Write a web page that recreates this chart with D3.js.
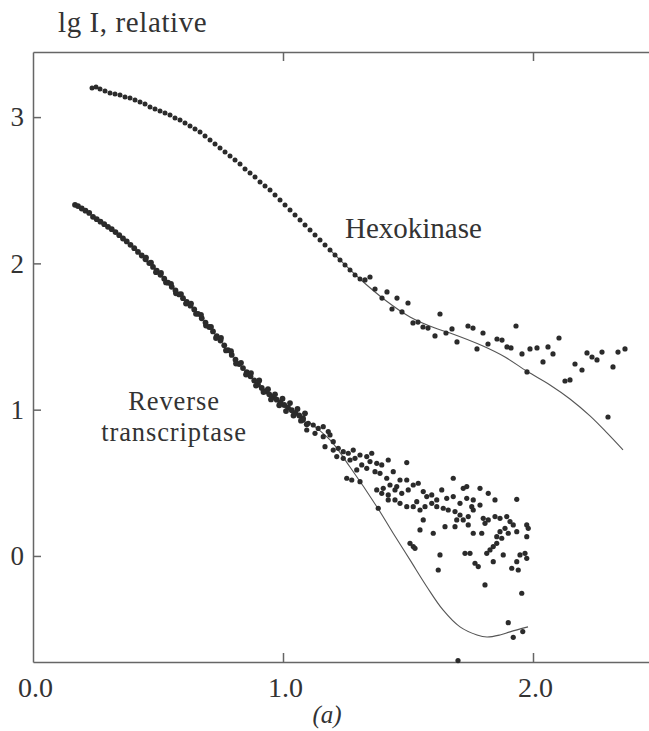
<!DOCTYPE html>
<html>
<head>
<meta charset="utf-8">
<script src="https://cdn.jsdelivr.net/npm/d3@7"></script>
<style>
  html, body { margin: 0; padding: 0; background: #fff; }
  svg { display: block; }
  .lbl { font-family: "Liberation Serif", "Times New Roman", serif; fill: #333; }
  .axis path, .axis line { stroke: #666; stroke-width: 1.5; }
  .axis text { font-family: "Liberation Serif", "Times New Roman", serif; fill: #333; }
</style>
</head>
<body>
<svg id="chart" width="649" height="731"></svg>
<script>
/* SAXS curves, lg I vs s: hexokinase and reverse transcriptase.
 * Points are [s, lgI]. */

// ---- data -------------------------------------------------------------
const xTickVals = [0, 1, 2];
const xTickLabels = ['0.0', '1.0', '2.0'];
const topTickVals = [1, 2];
const yTickVals = [0, 1, 2, 3];
const yTickLabels = ['0', '1', '2', '3'];

// hexokinase, low-angle part where the points sit on one line
const hexDense = [
  [0.236, 3.199], [0.252, 3.206], [0.268, 3.192], [0.288, 3.178], [0.308, 3.165],
  [0.328, 3.158], [0.348, 3.151], [0.368, 3.137], [0.388, 3.131], [0.408, 3.117],
  [0.428, 3.103], [0.448, 3.090], [0.468, 3.069], [0.488, 3.055], [0.508, 3.042],
  [0.528, 3.028], [0.548, 3.014], [0.568, 2.994], [0.588, 2.980], [0.608, 2.960],
  [0.628, 2.939], [0.648, 2.919], [0.668, 2.898], [0.688, 2.871], [0.708, 2.843],
  [0.728, 2.816], [0.748, 2.789], [0.768, 2.761], [0.788, 2.734], [0.808, 2.707],
  [0.828, 2.679], [0.848, 2.645], [0.868, 2.618], [0.888, 2.591], [0.908, 2.557],
  [0.928, 2.529], [0.948, 2.502], [0.968, 2.468], [0.988, 2.434], [1.008, 2.399],
  [1.028, 2.365], [1.048, 2.331], [1.068, 2.297], [1.088, 2.262], [1.108, 2.228],
  [1.128, 2.194], [1.148, 2.160], [1.168, 2.126], [1.188, 2.092], [1.208, 2.057],
  [1.228, 2.023], [1.248, 1.989], [1.268, 1.955], [1.288, 1.921], [1.308, 1.893]
];

// hexokinase, scattered tail
const hexScatter = [
  [1.328, 1.887], [1.348, 1.907], [1.368, 1.825], [1.396, 1.763], [1.416, 1.805],
  [1.436, 1.688], [1.456, 1.763], [1.476, 1.668], [1.500, 1.729], [1.520, 1.593],
  [1.540, 1.599], [1.560, 1.565], [1.580, 1.558], [1.608, 1.504], [1.628, 1.654],
  [1.652, 1.524], [1.676, 1.552], [1.696, 1.463], [1.740, 1.572], [1.760, 1.558],
  [1.776, 1.415], [1.800, 1.524], [1.820, 1.449], [1.856, 1.483], [1.876, 1.476],
  [1.896, 1.429], [1.912, 1.422], [1.932, 1.572], [1.956, 1.381], [1.976, 1.258],
  [1.988, 1.415], [2.016, 1.422], [2.040, 1.326], [2.060, 1.429], [2.080, 1.381],
  [2.104, 1.490], [2.128, 1.196], [2.148, 1.203], [2.168, 1.312], [2.196, 1.271],
  [2.216, 1.388], [2.236, 1.360], [2.256, 1.340], [2.276, 1.394], [2.300, 0.950],
  [2.320, 1.292], [2.340, 1.394], [2.368, 1.415]
];

// hexokinase model curve
const hexFit = [
  [1.188, 2.092], [1.308, 1.893], [1.408, 1.750], [1.508, 1.634], [1.608, 1.558],
  [1.668, 1.524], [1.800, 1.435], [1.888, 1.360], [1.976, 1.262], [2.068, 1.169],
  [2.148, 1.073], [2.228, 0.957], [2.296, 0.841], [2.360, 0.725]
];

// reverse transcriptase, dense band (two rows where it thickens)
const rtBand = [
  [0.168, 2.400], [0.180, 2.392], [0.195, 2.375], [0.210, 2.360], [0.225, 2.345],
  [0.240, 2.318], [0.255, 2.302], [0.270, 2.285], [0.285, 2.268], [0.300, 2.250],
  [0.315, 2.234], [0.330, 2.214], [0.345, 2.193], [0.360, 2.170], [0.375, 2.150],
  [0.390, 2.127], [0.405, 2.104], [0.420, 2.078], [0.435, 2.054], [0.450, 2.028],
  [0.465, 2.002], [0.480, 1.976], [0.495, 1.950], [0.510, 1.922], [0.525, 1.895],
  [0.540, 1.868], [0.555, 1.840], [0.570, 1.815], [0.585, 1.788], [0.600, 1.762],
  [0.615, 1.737], [0.630, 1.711], [0.645, 1.685], [0.660, 1.655], [0.675, 1.625],
  [0.690, 1.595], [0.705, 1.565], [0.720, 1.535], [0.735, 1.503], [0.750, 1.472],
  [0.765, 1.440], [0.780, 1.407], [0.795, 1.374], [0.810, 1.342], [0.825, 1.312],
  [0.840, 1.284], [0.855, 1.256], [0.870, 1.228], [0.885, 1.200], [0.900, 1.172],
  [0.915, 1.148], [0.930, 1.126], [0.945, 1.105], [0.960, 1.086], [0.975, 1.068],
  [0.990, 1.050], [1.005, 1.032], [1.020, 1.014], [1.035, 0.996], [1.050, 0.978],
  [1.065, 0.960], [1.080, 0.942]
];
const rtBand2 = [
  [0.452, 2.040], [0.472, 2.005], [0.492, 1.940], [0.512, 1.935], [0.532, 1.870],
  [0.552, 1.860], [0.572, 1.795], [0.592, 1.790], [0.612, 1.725], [0.632, 1.725],
  [0.652, 1.655], [0.672, 1.648], [0.692, 1.575], [0.712, 1.565], [0.732, 1.490],
  [0.752, 1.490], [0.772, 1.405], [0.792, 1.400], [0.812, 1.315], [0.832, 1.320],
  [0.852, 1.240], [0.872, 1.250], [0.892, 1.165], [0.905, 1.200], [0.922, 1.120],
  [0.940, 1.140], [0.952, 1.070], [0.968, 1.105], [0.985, 1.030], [0.998, 1.075],
  [1.012, 0.990], [1.028, 1.045], [1.042, 0.960], [1.058, 1.005], [1.072, 0.925],
  [1.088, 0.975], [1.095, 0.900]
];

// reverse transcriptase, scattered part
const rtScatter = [
  [1.081, 0.929], [1.101, 0.907], [1.121, 0.895], [1.141, 0.872], [1.161, 0.884],
  [1.181, 0.850], [1.095, 0.861], [1.128, 0.838], [1.161, 0.815], [1.188, 0.827],
  [1.201, 0.781], [1.168, 0.747], [1.201, 0.724], [1.221, 0.736], [1.241, 0.713],
  [1.261, 0.702], [1.281, 0.724], [1.215, 0.679], [1.241, 0.667], [1.268, 0.656],
  [1.288, 0.667], [1.308, 0.690], [1.335, 0.679], [1.355, 0.702], [1.348, 0.645],
  [1.375, 0.633], [1.395, 0.622], [1.421, 0.656], [1.315, 0.622], [1.335, 0.599],
  [1.295, 0.588], [1.368, 0.576], [1.388, 0.565], [1.495, 0.638], [1.255, 0.531],
  [1.275, 0.519], [1.308, 0.508], [1.415, 0.531], [1.441, 0.576], [1.468, 0.519],
  [1.495, 0.519], [1.521, 0.485], [1.541, 0.497], [1.428, 0.485], [1.455, 0.474],
  [1.401, 0.462], [1.375, 0.451], [1.395, 0.428], [1.421, 0.417], [1.448, 0.451],
  [1.475, 0.428], [1.501, 0.451], [1.381, 0.326], [1.681, 0.531], [1.721, 0.462],
  [1.735, 0.474], [1.788, 0.462], [1.821, 0.428], [1.848, 0.383], [1.935, 0.387],
  [1.561, 0.440], [1.575, 0.406], [1.595, 0.417], [1.615, 0.383], [1.635, 0.451],
  [1.655, 0.394], [1.681, 0.406], [1.708, 0.360], [1.735, 0.394], [1.761, 0.383],
  [1.788, 0.348], [1.755, 0.337], [1.595, 0.360], [1.568, 0.337], [1.535, 0.371],
  [1.521, 0.337], [1.495, 0.337], [1.468, 0.360], [1.448, 0.383], [1.421, 0.383],
  [1.548, 0.314], [1.615, 0.337], [1.641, 0.326], [1.661, 0.314], [1.688, 0.303],
  [1.708, 0.280], [1.695, 0.246], [1.721, 0.246], [1.741, 0.269], [1.761, 0.314],
  [1.801, 0.257], [1.821, 0.246], [1.848, 0.269], [1.868, 0.257], [1.895, 0.269],
  [1.908, 0.235], [1.921, 0.212], [1.888, 0.189], [1.868, 0.166], [1.855, 0.132],
  [1.875, 0.121], [1.901, 0.155], [1.935, 0.166], [1.975, 0.212], [1.981, 0.189],
  [1.975, 0.132], [1.561, 0.246], [1.548, 0.178], [1.601, 0.155], [1.648, 0.200],
  [1.688, 0.200], [1.741, 0.212], [1.761, 0.155], [1.795, 0.155], [1.808, 0.223],
  [1.508, 0.086], [1.521, 0.064], [1.528, 0.052], [1.628, 0.007], [1.621, -0.096],
  [1.728, 0.018], [1.748, 0.018], [1.768, -0.050], [1.781, -0.073], [1.808, -0.198],
  [1.828, 0.041], [1.841, 0.064], [1.855, 0.086], [1.815, 0.018], [1.841, -0.039],
  [1.881, 0.007], [1.915, -0.084], [1.941, -0.096], [1.948, 0.007], [1.968, 0.018],
  [1.975, -0.016], [1.935, -0.039], [1.955, -0.255], [1.901, -0.456], [1.921, -0.556],
  [1.959, -0.517], [1.700, -0.715]
];

// reverse transcriptase model curve
const rtFit = [
  [1.100, 0.920], [1.188, 0.793], [1.268, 0.608], [1.376, 0.335], [1.440, 0.157],
  [1.508, -0.027], [1.576, -0.212], [1.640, -0.369], [1.708, -0.485], [1.776, -0.540],
  [1.816, -0.554], [1.868, -0.540], [1.908, -0.519], [1.980, -0.485]
];

// ---- scales -----------------------------------------------------------
const svg = d3.select('#chart');
const x = d3.scaleLinear().domain([0, 2.464]).range([33, 649]);
const y = d3.scaleLinear().domain([-0.725, 3.445]).range([662, 52]);

// ---- axes (ticks point inward) ----------------------------------------
svg.append('g')
  .attr('class', 'axis')
  .attr('transform', `translate(0,${y(-0.725)})`)
  .call(d3.axisBottom(x).tickValues(xTickVals)
    .tickFormat((d, i) => xTickLabels[i])
    .tickSizeInner(-9).tickSizeOuter(0).tickPadding(15))
  .call(g => g.selectAll('text').attr('font-size', 28).attr('dx', 2))
  .call(g => g.selectAll('.tick').filter(d => d === 0).select('line').remove());

svg.append('g')
  .attr('class', 'axis')
  .attr('transform', `translate(0,${y(3.445)})`)
  .call(d3.axisTop(x).tickValues(topTickVals).tickFormat('')
    .tickSizeInner(-9).tickSizeOuter(0));

svg.append('g')
  .attr('class', 'axis')
  .attr('transform', `translate(${x(0)},0)`)
  .call(d3.axisLeft(y).tickValues(yTickVals)
    .tickFormat((d, i) => yTickLabels[i])
    .tickSizeInner(-8).tickSizeOuter(0).tickPadding(9))
  .call(g => g.selectAll('text').attr('font-size', 27));

// ---- model curves -----------------------------------------------------
const line = d3.line()
  .x(d => x(d[0]))
  .y(d => y(d[1]))
  .curve(d3.curveCatmullRom.alpha(0.5));

[hexFit, rtFit].forEach(pts => {
  svg.append('path')
    .datum(pts)
    .attr('d', line)
    .attr('fill', 'none')
    .attr('stroke', '#555')
    .attr('stroke-width', 1.1);
});

// ---- data points ------------------------------------------------------
function dots(pts, r) {
  svg.append('g').selectAll('circle')
    .data(pts)
    .join('circle')
    .attr('cx', d => x(d[0]))
    .attr('cy', d => y(d[1]))
    .attr('r', r)
    .attr('fill', '#2b2b2b');
}
dots(hexDense, 2.5);
dots(hexScatter, 2.6);
dots(rtBand, 2.9);
dots(rtBand2, 2.9);
dots(rtScatter, 2.6);

// ---- text -------------------------------------------------------------
svg.append('text').attr('class', 'lbl')
  .attr('x', 58).attr('y', 32)
  .attr('font-size', 29)
  .attr('letter-spacing', 0.6)
  .text('lg I, relative');

svg.append('text').attr('class', 'lbl')
  .attr('x', 345).attr('y', 238)
  .attr('font-size', 29)
  .text('Hexokinase');

svg.append('text').attr('class', 'lbl')
  .attr('x', 174).attr('y', 410)
  .attr('text-anchor', 'middle')
  .attr('font-size', 26.5)
  .attr('letter-spacing', 0.9)
  .text('Reverse');

svg.append('text').attr('class', 'lbl')
  .attr('x', 174).attr('y', 441)
  .attr('text-anchor', 'middle')
  .attr('font-size', 26.5)
  .attr('letter-spacing', 0.9)
  .text('transcriptase');

svg.append('text').attr('class', 'lbl')
  .attr('x', 327).attr('y', 723)
  .attr('text-anchor', 'middle')
  .attr('font-size', 25)
  .attr('font-style', 'italic')
  .text('(a)');
</script>
</body>
</html>
